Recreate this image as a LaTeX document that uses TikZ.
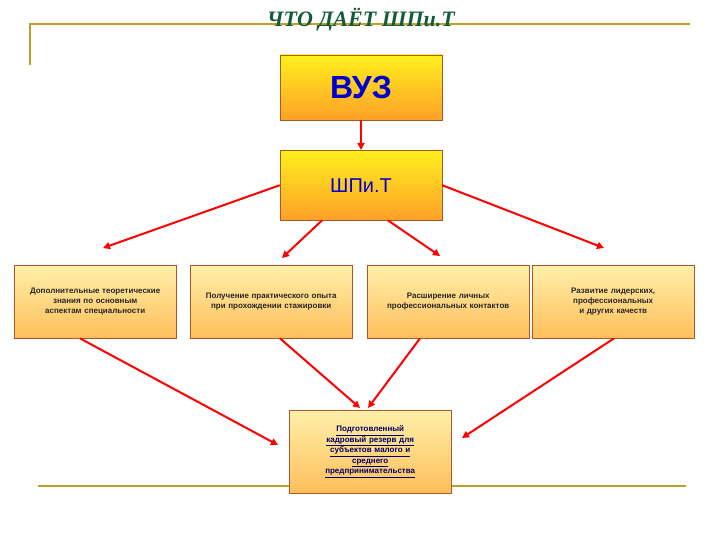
\documentclass[tikz,border=0pt]{standalone}
\usepackage{fontspec}
\setmainfont{Liberation Sans}
\newfontfamily\titlefont{Liberation Serif}
\usetikzlibrary{arrows.meta}
\definecolor{gold}{RGB}{190,160,40}
\definecolor{tgreen}{RGB}{20,90,60}
\definecolor{bord}{RGB}{170,90,40}
\definecolor{topy}{RGB}{255,240,30}
\definecolor{boto}{RGB}{255,160,40}
\definecolor{lightt}{RGB}{255,240,170}
\definecolor{lightb}{RGB}{255,190,90}
\tikzset{
 big/.style={draw=bord,top color=topy,bottom color=boto,minimum width=162pt,inner sep=2pt,align=center,font=\bfseries,text=blue!80!black},
 small/.style={draw=bord,top color=lightt,bottom color=lightb,minimum width=162pt,minimum height=73pt,text width=150pt,align=center,font=\fontsize{8}{10}\selectfont\bfseries,text=black!85,anchor=north west},
 arr/.style={red,line width=2pt,-{Triangle[length=7pt,width=7pt]}}
}
\begin{document}
\begin{tikzpicture}[x=1pt,y=-1pt]
\useasboundingbox[fill=white] (0,0) rectangle (720,540);
\draw[gold,line width=2pt] (30,65) -- (30,24) -- (690,24);
\draw[gold,line width=2pt] (38,486) -- (686,486);
\node[font=\titlefont\bfseries\itshape\fontsize{22}{24}\selectfont,text=tgreen] (title) at (361,20) {ЧТО ДАЁТ ШПи.Т};
\node[big,minimum height=65pt,font=\bfseries\fontsize{32}{34}\selectfont] (vuz) at (361,87.5) {ВУЗ};
\node[big,minimum height=70pt,anchor=north,font=\fontsize{20}{22}\selectfont] (sh) at (361,150) {ШПи.Т};
\node[small] (b1) at (14,265) {Дополнительные теоретические знания по основным аспектам специальности};
\node[small] (b2) at (190,265) {Получение практического опыта при прохождении стажировки};
\node[small] (b3) at (367,265) {Расширение личных профессиональных контактов};
\node[small] (b4) at (532,265) {Развитие лидерских, профессиональных и других качеств};
\node[small,minimum height=83pt,text=blue!40!black,font=\fontsize{8}{10.5}\selectfont\bfseries] (bot) at (289,410) {\underline{Подготовленный}\\\underline{кадровый резерв для}\\\underline{субъектов малого и}\\\underline{среднего}\\\underline{предпринимательства}};
\draw[arr] (vuz.south) -- (sh.north);
\coordinate (a1) at (103,248); \coordinate (a2) at (282,258);
\coordinate (a3) at (440,256); \coordinate (a4) at (604,248);
\draw[arr] (sh.west) ++(0,0) -- (a1);
\draw[arr] (sh.south) ++(-39,0) -- (a2);
\draw[arr] (sh.south) ++(27,0) -- (a3);
\draw[arr] (sh.east) -- (a4);
\coordinate (c1) at (278,445); \coordinate (c2) at (360,408);
\coordinate (c3) at (368,408); \coordinate (c4) at (462,438);
\draw[arr] (b1.south west) ++(66,0) -- (c1);
\draw[arr] (b2.south west) ++(90,0) -- (c2);
\draw[arr] (b3.south west) ++(53,0) -- (c3);
\draw[arr] (b4.south west) ++(82,0) -- (c4);
\end{tikzpicture}
\end{document}
